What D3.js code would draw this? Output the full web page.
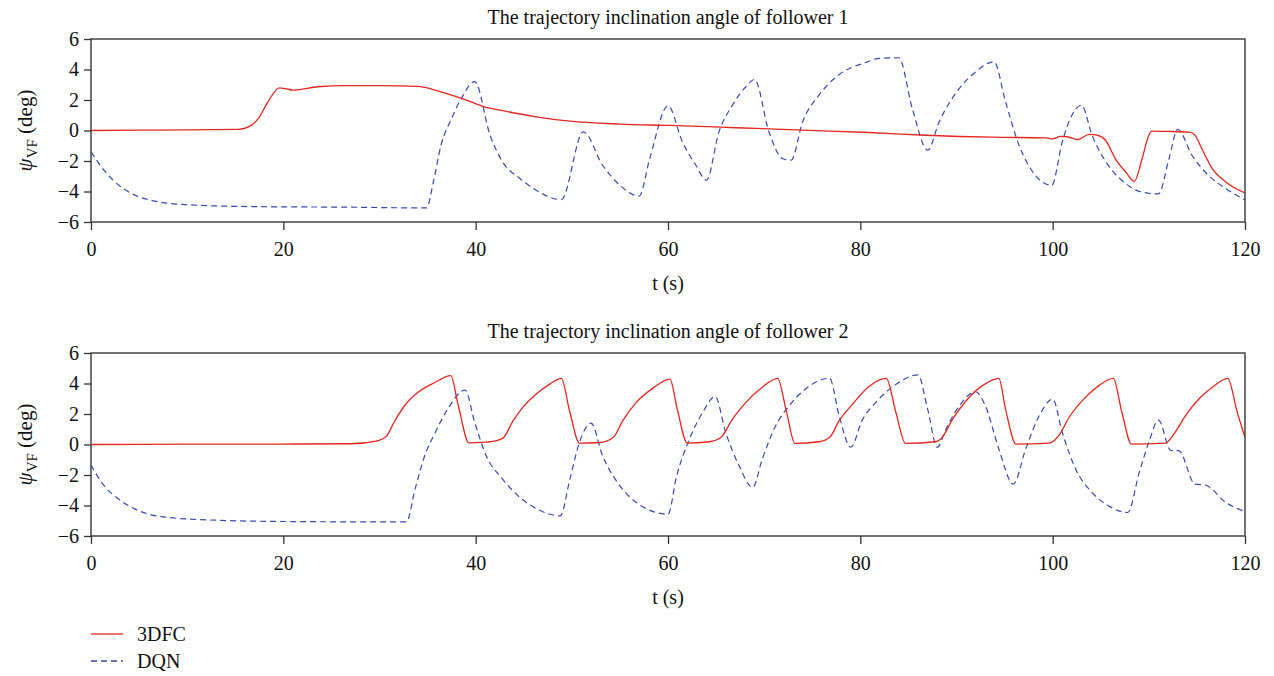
<!DOCTYPE html>
<html><head><meta charset="utf-8">
<script src="https://cdn.jsdelivr.net/npm/d3@7"></script>
<style>
body{margin:0;background:#fff;}
text{font-family:"Liberation Serif","DejaVu Serif",serif;fill:#111;}
</style></head>
<body><svg id="c" width="1274" height="676"></svg>
<script>
// ---- data ----
const xTicks = [0, 20, 40, 60, 80, 100, 120];
const yTicks = [-6, -4, -2, 0, 2, 4, 6];
const titles = ["The trajectory inclination angle of follower 1", "The trajectory inclination angle of follower 2"];
const seriesNames = ["3DFC", "DQN"];

// follower 1, 3DFC
const f1RedT = [0, 5, 10, 15.3, 16.7, 17.4, 18.4, 19.6, 20.2, 21.0, 23.6, 26.4, 30, 34.0, 34.7, 36.8, 38.9, 40.9, 42.8, 46.3, 49.8, 55.0, 60.2, 67.1, 74.0, 80.9, 86.8, 93.7, 99.3, 100.0, 100.8, 101.5, 102.6, 103.8, 104.6, 105.5, 106.5, 107.6, 108.5, 109.3, 110.0, 110.3, 112, 114.2, 114.8, 115.5, 116.6, 118.0, 120];
const f1RedV = [0, 0.02, 0.04, 0.07, 0.35, 0.79, 1.88, 2.8, 2.75, 2.65, 2.87, 2.94, 2.94, 2.9, 2.83, 2.45, 2.03, 1.55, 1.3, 0.9, 0.61, 0.42, 0.33, 0.18, 0.02, -0.13, -0.31, -0.44, -0.48, -0.55, -0.39, -0.41, -0.59, -0.26, -0.31, -0.64, -1.84, -2.72, -3.33, -1.84, -0.31, -0.04, -0.06, -0.11, -0.31, -1.18, -2.5, -3.37, -4.1];
// follower 1, DQN
const f1BlueT = [0, 1.5, 2.9, 4.6, 6.3, 9.8, 16.7, 27.1, 34.9, 35.6, 36.4, 37.5, 38.5, 39.9, 41.5, 42.8, 44.6, 46.3, 48.9, 51.2, 53.2, 55.0, 57.0, 58.1, 60.0, 61.5, 62.9, 64.0, 65.3, 66.7, 68.1, 69.0, 70.5, 71.9, 72.8, 74.0, 75.7, 77.5, 80.6, 82.0, 84.0, 85.4, 87.0, 88.2, 90.3, 92.0, 93.9, 95.1, 96.5, 98.2, 99.9, 101.0, 102.0, 103.0, 104.1, 105.9, 107.6, 109.0, 111.0, 112.1, 113.0, 114.5, 116.2, 118.0, 120];
const f1BlueV = [-1.4, -2.72, -3.59, -4.25, -4.58, -4.86, -4.99, -5.03, -5.08, -3.37, -0.96, 0.79, 2.1, 3.2, -0.31, -2.06, -3.15, -3.92, -4.53, -0.09, -2.28, -3.59, -4.3, -1.84, 1.62, -0.75, -2.28, -3.26, -0.09, 1.66, 2.87, 3.35, -0.09, -1.84, -1.95, 0.57, 2.32, 3.52, 4.47, 4.73, 4.77, 1.45, -1.29, 0.57, 2.76, 3.85, 4.51, 1.88, -0.96, -2.94, -3.59, -0.75, 1.0, 1.66, -0.31, -2.39, -3.48, -3.99, -4.16, -1.84, 0.07, -1.64, -2.94, -3.81, -4.55];
// follower 2, 3DFC
const f2RedT = [0, 10, 20, 27, 29.9, 30.7, 31.6, 32.6, 34.0, 35.8, 37.4, 38.2, 39.3, 40.9, 41.5, 42.8, 43.9, 44.9, 46.3, 47.7, 48.9, 49.8, 50.8, 52.9, 54.3, 55.3, 56.7, 58.4, 60.2, 61.0, 62.0, 64.3, 65.5, 66.7, 68.1, 69.8, 71.4, 72.3, 73.2, 75.7, 76.8, 77.8, 79.2, 80.9, 82.7, 83.7, 84.7, 87.8, 88.5, 89.6, 91.0, 92.7, 94.4, 95.1, 96.2, 99.6, 100.6, 101.7, 103.4, 104.8, 106.3, 107.2, 108.2, 111.7, 112.6, 113.8, 115.2, 116.6, 118.2, 119.2, 120];
const f2RedV = [0, 0.02, 0.03, 0.05, 0.26, 0.53, 1.56, 2.54, 3.42, 4.08, 4.51, 2.54, 0.11, 0.15, 0.18, 0.4, 1.56, 2.43, 3.31, 3.96, 4.34, 2.1, 0.09, 0.13, 0.46, 1.56, 2.76, 3.68, 4.29, 2.21, 0.09, 0.18, 0.46, 1.66, 2.76, 3.75, 4.34, 2.21, 0.07, 0.18, 0.46, 1.56, 2.65, 3.81, 4.34, 2.1, 0.07, 0.18, 0.46, 1.66, 2.87, 3.86, 4.34, 2.32, 0.02, 0.09, 0.55, 1.77, 3.09, 3.86, 4.34, 2.1, 0.02, 0.09, 0.68, 1.88, 2.98, 3.75, 4.34, 2.1, 0.46];
// follower 2, DQN
const f2BlueT = [0, 1.1, 2.9, 4.6, 8.1, 13.3, 20.2, 32.8, 33.7, 34.7, 35.8, 37.1, 38.9, 39.9, 41.1, 42.8, 44.6, 46.3, 48.8, 49.8, 50.8, 52.0, 53.2, 55.0, 56.7, 60.0, 60.9, 62.1, 63.6, 64.9, 66.0, 67.4, 68.8, 69.8, 71.2, 72.6, 74.3, 76.8, 77.8, 79.0, 80.2, 81.6, 83.3, 86.0, 87.0, 88.0, 88.9, 90.3, 92.0, 93.0, 94.4, 95.9, 97.2, 98.6, 100.0, 101.0, 102.4, 104.1, 105.8, 107.8, 109.0, 110.0, 111.0, 112.3, 113.1, 114.8, 115.9, 118.0, 120];
const f2BlueV = [-1.34, -2.49, -3.59, -4.24, -4.79, -4.97, -5.05, -5.08, -2.93, -0.74, 0.79, 2.33, 3.57, 1.45, -0.74, -2.27, -3.47, -4.2, -4.68, -2.27, 0.15, 1.4, -0.74, -2.71, -3.8, -4.57, -2.06, 0.15, 2.1, 3.15, 0.79, -1.4, -2.82, -0.96, 1.23, 2.54, 3.64, 4.34, 1.88, -0.18, 1.6, 2.76, 3.75, 4.56, 2.32, -0.18, 1.0, 2.54, 3.46, 2.54, -0.29, -2.6, -0.29, 1.88, 2.98, 0.79, -1.62, -3.15, -4.02, -4.46, -1.84, 0.15, 1.6, -0.4, -0.4, -2.6, -2.67, -3.8, -4.4];

const panels = [
  {red: [f1RedT, f1RedV], blue: [f1BlueT, f1BlueV], top: 39, title: titles[0]},
  {red: [f2RedT, f2RedV], blue: [f2BlueT, f2BlueV], top: 353, title: titles[1]}
];

// ---- layout ----
const svg = d3.select("#c");
const left = 91, right = 1245, ph = 183;
const redC = "#e4261f", blueC = "#3a48b2";
const FS = 20;
const x = d3.scaleLinear().domain([0, 120]).range([left, right]);

panels.forEach(p => {
  const y = d3.scaleLinear().domain([-6, 6]).range([p.top + ph, p.top]);
  const g = svg.append("g");
  // title
  g.append("text").attr("x", (left + right) / 2).attr("y", p.top - 15)
    .attr("text-anchor", "middle").attr("font-size", FS).text(p.title);
  // lines
  const line = d3.line().x(d => x(d[0])).y(d => y(d[1])).curve(d3.curveMonotoneX);
  const toPts = s => s[0].map((t, i) => [t, s[1][i]]);
  const clipId = "clip" + p.top;
  g.append("clipPath").attr("id", clipId).append("rect")
    .attr("x", left).attr("y", p.top).attr("width", right - left).attr("height", ph);
  g.append("path").datum(toPts(p.blue)).attr("d", line).attr("fill", "none")
    .attr("stroke", blueC).attr("stroke-width", 1.2).attr("stroke-dasharray", "6,4")
    .attr("clip-path", `url(#${clipId})`);
  g.append("path").datum(toPts(p.red)).attr("d", line).attr("fill", "none")
    .attr("stroke", redC).attr("stroke-width", 1.3).attr("clip-path", `url(#${clipId})`);
  // frame
  g.append("rect").attr("x", left).attr("y", p.top).attr("width", right - left).attr("height", ph)
    .attr("fill", "none").attr("stroke", "#444").attr("stroke-width", 1.5);
  // axes
  const ya = g.append("g").attr("transform", `translate(${left},0)`)
    .call(d3.axisLeft(y).tickValues(yTicks).tickSize(7).tickPadding(5).tickFormat(d3.format("d")));
  const xa = g.append("g").attr("transform", `translate(0,${p.top + ph})`)
    .call(d3.axisBottom(x).tickValues(xTicks).tickSize(8).tickPadding(12).tickFormat(d3.format("d")));
  [ya, xa].forEach(a => {
    a.select(".domain").remove();
    a.selectAll(".tick line").attr("stroke", "#333").attr("stroke-width", 1.3);
    a.selectAll(".tick text").attr("font-size", FS).attr("fill", "#111")
      .attr("font-family", '"Liberation Serif","DejaVu Serif",serif');
  });
  // x label
  g.append("text").attr("x", (left + right) / 2).attr("y", p.top + ph + 68)
    .attr("text-anchor", "middle").attr("font-size", FS).text("t (s)");
  // y label
  const yl = g.append("text").attr("transform", `translate(32,${p.top + ph / 2}) rotate(-90)`)
    .attr("text-anchor", "middle").attr("font-size", 21);
  yl.append("tspan").attr("font-style", "italic").text("ψ");
  yl.append("tspan").attr("font-size", 15).attr("dy", 5).text("VF");
  yl.append("tspan").attr("dy", -5).text(" (deg)");
});

// legend
const leg = svg.append("g");
[[634, redC, null, seriesNames[0]], [661, blueC, "6,4", seriesNames[1]]].forEach(([yy, c, dash, name]) => {
  leg.append("line").attr("x1", 91).attr("x2", 123).attr("y1", yy).attr("y2", yy)
    .attr("stroke", c).attr("stroke-width", 1.3).attr("stroke-dasharray", dash);
  leg.append("text").attr("x", 137).attr("y", yy + 7).attr("font-size", FS).text(name);
});
</script></body></html>
